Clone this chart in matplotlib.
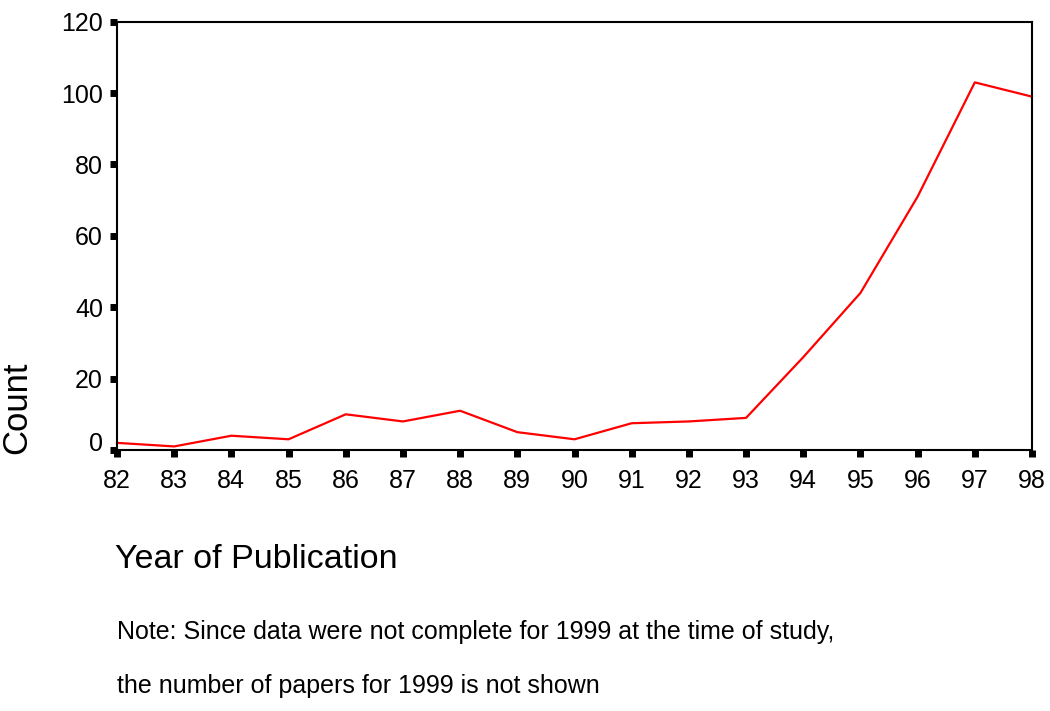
import matplotlib.pyplot as plt
import matplotlib.transforms as mtransforms

# values
years = [82, 83, 84, 85, 86, 87, 88, 89, 90, 91, 92, 93, 94, 95, 96, 97, 98]
counts = [2, 1, 4, 3, 10, 8, 11, 5, 3, 7.5, 8, 9, 26, 44, 71, 103, 99]
yticks = [0, 20, 40, 60, 80, 100, 120]

plt.rcParams['font.family'] = ['Liberation Sans', 'DejaVu Sans']

fig = plt.figure(figsize=(10.5, 7.11), dpi=100)
ax = fig.add_axes([117/1050, 1 - 450/711, (1032 - 117)/1050, (450 - 21.7)/711])

ax.plot(years, counts, color='#ff0000', lw=1.6, clip_on=False)

ax.set_xlim(82, 98)
ax.set_ylim(0, 120)
ax.set_xticks(years)
ax.set_xticklabels([str(y) for y in years])
ax.set_yticks(yticks)

for s in ax.spines.values():
    s.set_linewidth(1.5)
    s.set_color('black')

ax.tick_params(axis='both', direction='out', length=5, width=5, labelsize=18, colors='black')
ax.tick_params(axis='x', pad=9)
ax.tick_params(axis='y', pad=5)

# SPSS puts the "0" label a bit above its tick
lbl0 = ax.get_yticklabels()[0]
lbl0.set_transform(lbl0.get_transform() + mtransforms.ScaledTranslation(0, 9/100, fig.dpi_scale_trans))

fig.text(17/1050, 1 - 408/711, 'Count', rotation=90, fontsize=25, ha='center', va='center')
fig.text(115/1050, 1 - 560/711, 'Year of Publication', fontsize=24.5, ha='left', va='center')
fig.text(117/1050, 1 - 632/711, 'Note: Since data were not complete for 1999 at the time of study,',
         fontsize=18, ha='left', va='center')
fig.text(117/1050, 1 - 686/711, 'the number of papers for 1999 is not shown',
         fontsize=18, ha='left', va='center')

fig.savefig('out.png', dpi=100)
